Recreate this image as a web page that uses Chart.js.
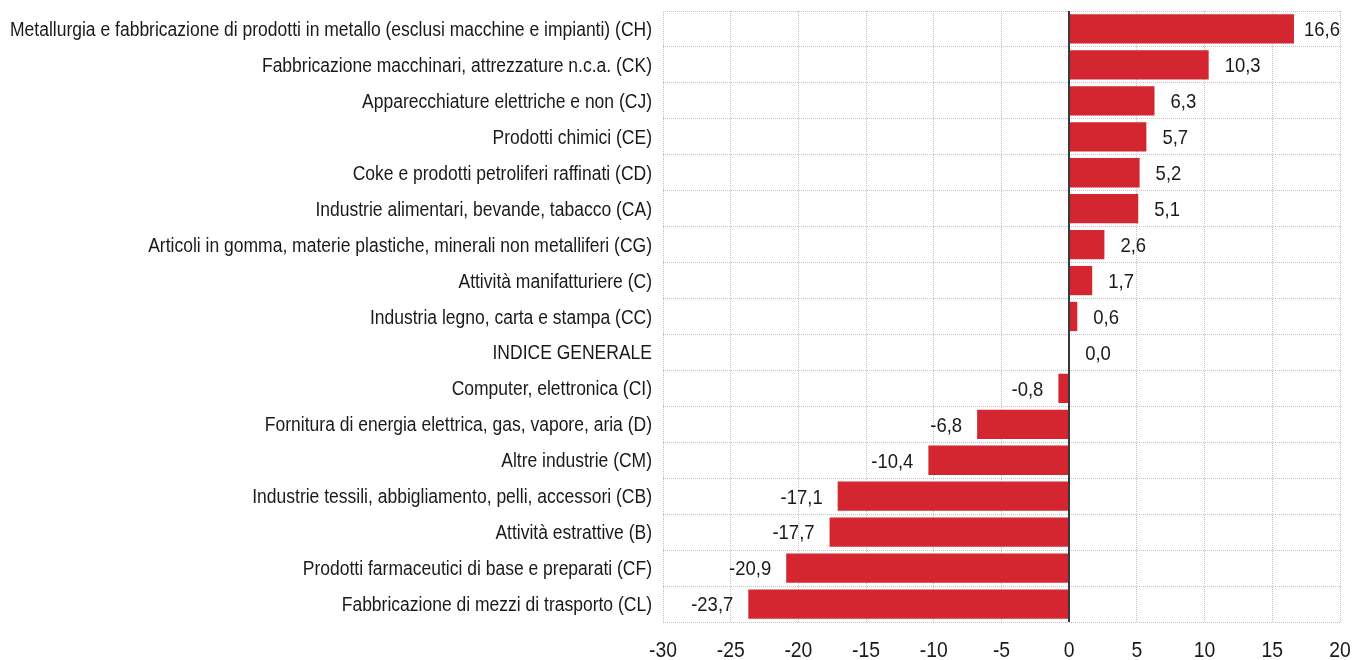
<!DOCTYPE html>
<html><head><meta charset="utf-8">
<script src="https://cdn.jsdelivr.net/npm/chart.js@4/dist/chart.umd.min.js"></script>
<style>html,body{margin:0;padding:0;background:#fff}#wrap{width:1354px;height:660px}</style>
</head><body><div id="wrap"><canvas id="c" width="1354" height="660"></canvas></div>
<script>
const categories = [
  "Metallurgia e fabbricazione di prodotti in metallo (esclusi macchine e impianti) (CH)",
  "Fabbricazione macchinari, attrezzature n.c.a. (CK)",
  "Apparecchiature elettriche e non (CJ)",
  "Prodotti chimici (CE)",
  "Coke e prodotti petroliferi raffinati (CD)",
  "Industrie alimentari, bevande, tabacco (CA)",
  "Articoli in gomma, materie plastiche, minerali non metalliferi (CG)",
  "Attività manifatturiere (C)",
  "Industria legno, carta e stampa (CC)",
  "INDICE GENERALE",
  "Computer, elettronica (CI)",
  "Fornitura di energia elettrica, gas, vapore, aria (D)",
  "Altre industrie (CM)",
  "Industrie tessili, abbigliamento, pelli, accessori (CB)",
  "Attività estrattive (B)",
  "Prodotti farmaceutici di base e preparati (CF)",
  "Fabbricazione di mezzi di trasporto (CL)"
];
const values = [16.6, 10.3, 6.3, 5.7, 5.2, 5.1, 2.6, 1.7, 0.6, 0.0, -0.8, -6.8, -10.4, -17.1, -17.7, -20.9, -23.7];
const xTicks = [-30, -25, -20, -15, -10, -5, 0, 5, 10, 15, 20];

const FONT = "'Liberation Sans', Arial, sans-serif";
const TEXT = '#1a1a1a';
const fmt = v => v.toFixed(1).replace('.', ',');

function drawScaled(ctx, text, x, y, align, sx) {
  ctx.save();
  ctx.translate(x, y);
  ctx.scale(sx, 1);
  ctx.textAlign = align;
  ctx.fillText(text, 0, 0);
  ctx.restore();
}

const textPlugin = {
  id: 'texts',
  afterDraw(chart) {
    const ctx = chart.ctx;
    const xs = chart.scales.x, ys = chart.scales.y;
    const area = chart.chartArea;
    ctx.save();
    // zero line
    const x0 = Math.round(xs.getPixelForValue(0));
    ctx.strokeStyle = '#3a3a3a';
    ctx.lineWidth = 2;
    ctx.beginPath(); ctx.moveTo(x0, area.top); ctx.lineTo(x0, area.bottom); ctx.stroke();

    ctx.fillStyle = TEXT;
    ctx.textBaseline = 'middle';
    // category labels
    ctx.font = "20px " + FONT;
    const longest = Math.max(...categories.map(c => ctx.measureText(c).width));
    const sy = 642 / longest;
    categories.forEach((c, i) => {
      drawScaled(ctx, c, area.left - 11, ys.getPixelForValue(i) + 1.5, 'right', sy);
    });
    // x tick labels
    ctx.font = "22px " + FONT;
    xTicks.forEach(v => {
      drawScaled(ctx, String(v), xs.getPixelForValue(v), area.bottom + 29, 'center', 0.88);
    });
    // value labels
    ctx.font = "21px " + FONT;
    const vs = 0.88;
    const meta = chart.getDatasetMeta(0);
    meta.data.forEach((bar, i) => {
      const v = values[i];
      const x = xs.getPixelForValue(v);
      const t = fmt(v);
      const w = ctx.measureText(t).width * vs;
      if (v >= 0) {
        let lx = x + 16;
        if (lx + w > area.right) lx = area.right - w;
        drawScaled(ctx, t, lx, bar.y + 1.5, 'left', vs);
      } else {
        drawScaled(ctx, t, x - 15, bar.y + 1.5, 'right', vs);
      }
    });
    ctx.restore();
  }
};

new Chart(document.getElementById('c'), {
  type: 'bar',
  data: { labels: categories, datasets: [{ data: values, backgroundColor: '#d42630', borderWidth: 0, categoryPercentage: 0.84, barPercentage: 0.97 }] },
  options: {
    indexAxis: 'y', responsive: false, animation: false,
    layout: { padding: { top: 11, right: 14, left: 0, bottom: 0 } },
    plugins: { legend: { display: false }, tooltip: { enabled: false } },
    scales: {
      x: {
        min: -30, max: 20,
        afterBuildTicks: s => { s.ticks = xTicks.map(v => ({ value: v })); },
        afterFit: s => { s.height = 38; },
        ticks: { display: false },
        grid: { drawTicks: false, color: '#c2c2c2', lineWidth: 1 },
        border: { display: false, dash: [1, 1] }
      },
      y: {
        afterFit: s => { s.width = 663; },
        ticks: { display: false, autoSkip: false },
        grid: { drawTicks: false, color: '#c2c2c2', lineWidth: 1 },
        border: { display: false, dash: [1, 1] }
      }
    }
  },
  plugins: [textPlugin]
});
</script></body></html>
